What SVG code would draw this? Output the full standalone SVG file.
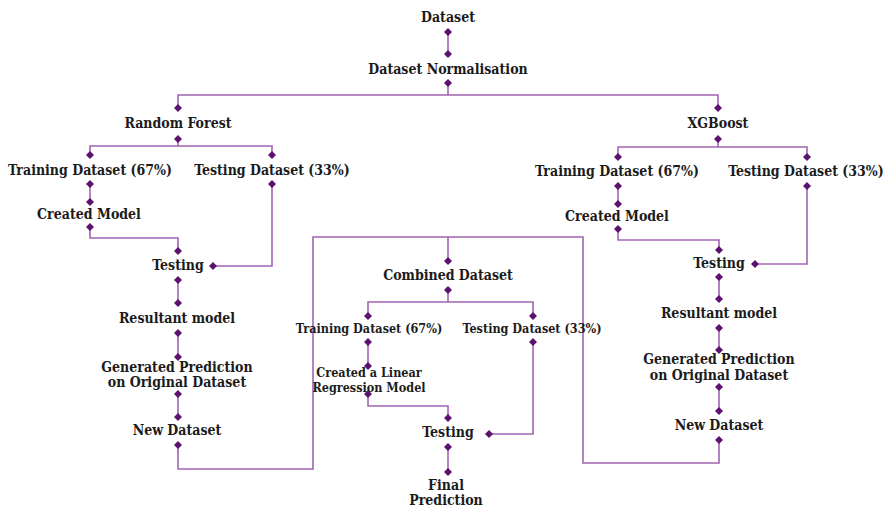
<svg xmlns="http://www.w3.org/2000/svg" width="888" height="510" viewBox="0 0 888 510">
<defs>
<style>
text{font-family:"DejaVu Serif","Liberation Serif",serif;font-stretch:condensed;font-weight:bold;font-size:14px;fill:#1b1b1b;text-anchor:middle}
text.s{font-size:12.5px}
.c{fill:none;stroke:#a265b3;stroke-width:1.6}
.d{fill:#5e1270}
</style>
<path id="dm" d="M0,-4 L4,0 L0,4 L-4,0 Z"/>
</defs>
<rect width="888" height="510" fill="#ffffff"/>
<g id="connectors" class="c">
<path d="M448,32 V54"/>
<path d="M448,83 V95 M178,108 V95 H718 V108"/>
<path d="M178,139 V146 M90,155 V146 H272 V155"/>
<path d="M90,184 V202"/>
<path d="M90,227 V238 H178 V251"/>
<path d="M213,266 H272 V184"/>
<path d="M178,280 V303 M178,333 V357 M178,394 V417"/>
<path d="M178,445 V469 H313 V237 H583 V463 H719 V440"/>
<path d="M448,237 V261"/>
<path d="M448,290 V302 M368,316 V302 H533 V316"/>
<path d="M368,342 V366"/>
<path d="M368,394 V406 H448 V418"/>
<path d="M489,434 H533 V342"/>
<path d="M448,447 V472"/>
<path d="M718,139 V147 M618,157 V147 H807 V157"/>
<path d="M618,186 V204"/>
<path d="M618,229 V240 H719 V250"/>
<path d="M755,264 H807 V186"/>
<path d="M719,277 V299 M719,328 V350 M719,387 V411"/>
</g>
<g id="diamonds" class="d">
<use href="#dm" x="448" y="32"/><use href="#dm" x="448" y="54"/><use href="#dm" x="448" y="83"/>
<use href="#dm" x="178" y="108"/><use href="#dm" x="178" y="139"/><use href="#dm" x="90" y="155"/><use href="#dm" x="272" y="155"/>
<use href="#dm" x="90" y="184"/><use href="#dm" x="90" y="202"/><use href="#dm" x="90" y="227"/><use href="#dm" x="178" y="251"/>
<use href="#dm" x="213" y="266"/><use href="#dm" x="272" y="184"/>
<use href="#dm" x="178" y="280"/><use href="#dm" x="178" y="303"/><use href="#dm" x="178" y="333"/><use href="#dm" x="178" y="357"/>
<use href="#dm" x="178" y="394"/><use href="#dm" x="178" y="417"/><use href="#dm" x="178" y="445"/>
<use href="#dm" x="448" y="261"/><use href="#dm" x="448" y="290"/><use href="#dm" x="368" y="316"/><use href="#dm" x="533" y="316"/>
<use href="#dm" x="368" y="342"/><use href="#dm" x="368" y="366"/><use href="#dm" x="368" y="394"/><use href="#dm" x="448" y="418"/>
<use href="#dm" x="489" y="434"/><use href="#dm" x="533" y="342"/><use href="#dm" x="448" y="447"/><use href="#dm" x="448" y="472"/>
<use href="#dm" x="718" y="108"/><use href="#dm" x="718" y="139"/><use href="#dm" x="618" y="157"/><use href="#dm" x="807" y="157"/>
<use href="#dm" x="618" y="186"/><use href="#dm" x="618" y="204"/><use href="#dm" x="618" y="229"/><use href="#dm" x="719" y="250"/>
<use href="#dm" x="755" y="264"/><use href="#dm" x="807" y="186"/>
<use href="#dm" x="719" y="277"/><use href="#dm" x="719" y="299"/><use href="#dm" x="719" y="328"/><use href="#dm" x="719" y="350"/>
<use href="#dm" x="719" y="387"/><use href="#dm" x="719" y="411"/><use href="#dm" x="719" y="440"/>
</g>
<g id="n-dataset"><text x="448" y="22">Dataset</text></g>
<g id="n-norm"><text x="448" y="74">Dataset Normalisation</text></g>
<g id="n-rf"><text x="178" y="128">Random Forest</text></g>
<g id="n-rf-train"><text x="90" y="175">Training Dataset (67%)</text></g>
<g id="n-rf-test"><text x="272" y="175">Testing Dataset (33%)</text></g>
<g id="n-rf-model"><text x="89" y="219">Created Model</text></g>
<g id="n-rf-testing"><text x="178" y="270">Testing</text></g>
<g id="n-rf-result"><text x="177" y="323">Resultant model</text></g>
<g id="n-rf-pred"><text x="177" y="372">Generated Prediction</text><text x="177" y="387">on Original Dataset</text></g>
<g id="n-rf-new"><text x="177" y="435">New Dataset</text></g>
<g id="n-xgb"><text x="718" y="128">XGBoost</text></g>
<g id="n-xgb-train"><text x="617" y="176">Training Dataset (67%)</text></g>
<g id="n-xgb-test"><text x="806" y="176">Testing Dataset (33%)</text></g>
<g id="n-xgb-model"><text x="617" y="221">Created Model</text></g>
<g id="n-xgb-testing"><text x="719" y="268">Testing</text></g>
<g id="n-xgb-result"><text x="719" y="318">Resultant model</text></g>
<g id="n-xgb-pred"><text x="719" y="364">Generated Prediction</text><text x="719" y="380">on Original Dataset</text></g>
<g id="n-xgb-new"><text x="719" y="430">New Dataset</text></g>
<g id="n-comb"><text x="448" y="280">Combined Dataset</text></g>
<g id="n-comb-train"><text class="s" x="369" y="333">Training Dataset (67%)</text></g>
<g id="n-comb-test"><text class="s" x="532" y="333">Testing Dataset (33%)</text></g>
<g id="n-lr"><text class="s" x="369" y="377">Created a Linear</text><text class="s" x="369" y="392">Regression Model</text></g>
<g id="n-comb-testing"><text x="448" y="437">Testing</text></g>
<g id="n-final"><text x="446" y="490">Final</text><text x="446" y="505">Prediction</text></g>
</svg>
